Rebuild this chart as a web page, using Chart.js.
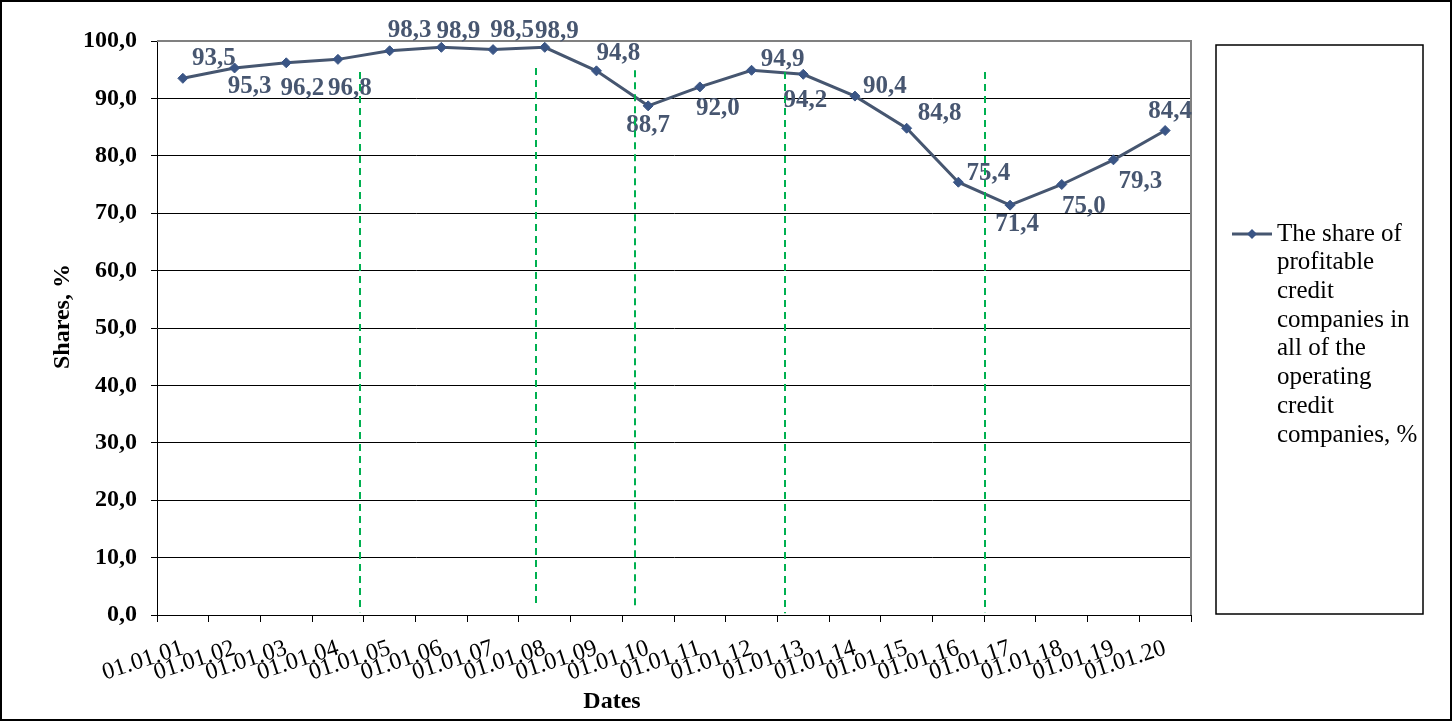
<!DOCTYPE html>
<html lang="en">
<head>
    <meta charset="UTF-8">
    <title>Share of profitable credit companies</title>
    <script src="https://cdn.jsdelivr.net/npm/chart.js"></script>
    <style>
        html, body { margin: 0; padding: 0; background: #fff; }
        #wrap { width: 1452px; height: 721px; position: relative; }
    </style>
</head>
<body>
<div id="wrap"><canvas id="shareChart"></canvas></div>

<script>
    // Dates (x axis categories)
    const dates = ['01.01.01', '01.01.02', '01.01.03', '01.01.04', '01.01.05', '01.01.06', '01.01.07',
        '01.01.08', '01.01.09', '01.01.10', '01.01.11', '01.01.12', '01.01.13', '01.01.14',
        '01.01.15', '01.01.16', '01.01.17', '01.01.18', '01.01.19', '01.01.20'];

    // Share of profitable credit companies, %
    const shares = [93.5, 95.3, 96.2, 96.8, 98.3, 98.9, 98.5, 98.9, 94.8, 88.7,
        92.0, 94.9, 94.2, 90.4, 84.8, 75.4, 71.4, 75.0, 79.3, 84.4];

    const seriesName = 'The share of profitable credit companies in all of the operating credit companies, %';

    // Green dashed markers: place on the date axis (category units) and value span
    const dashAt = [3.43, 6.84, 8.75, 11.65, 15.52];
    const dashTop = [94.6, 95.3, 94.9, 94.6, 94.6];
    const dashBottom = [0.5, 1.4, 1.0, 0.3, 0.5];

    const serif = "'Liberation Serif', 'Times New Roman', serif";
    const labelColor = '#475670';

    // where each value label sits relative to its point (px)
    const labelShift = [
        [31, -20], [15, 19], [16, 26], [12, 29], [20, -20], [17, -16], [19, -19], [12, -16],
        [22, -17], [0, 20], [18, 22], [31, -11], [2, 26], [30, -10], [33, -15], [30, -9],
        [7, 19], [22, 22], [27, 22], [5, -19]
    ];

    const fmt = v => v.toFixed(1).replace('.', ',');

    const extras = {
        id: 'extras',
        beforeDatasetsDraw(chart) {
            const { ctx, chartArea: a } = chart;
            // plot area frame, top and right
            ctx.save();
            ctx.strokeStyle = '#808080';
            ctx.lineWidth = 2;
            ctx.beginPath();
            ctx.moveTo(a.left, a.top);
            ctx.lineTo(a.right, a.top);
            ctx.lineTo(a.right, a.bottom);
            ctx.stroke();
            ctx.restore();
        },
        afterDatasetsDraw(chart) {
            const { ctx } = chart;
            const meta = chart.getDatasetMeta(0);
            ctx.save();
            ctx.font = `bold 25px ${serif}`;
            ctx.fillStyle = labelColor;
            ctx.textAlign = 'center';
            ctx.textBaseline = 'middle';
            meta.data.forEach((pt, i) => {
                const [dx, dy] = labelShift[i];
                ctx.fillText(fmt(shares[i]), pt.x + dx, pt.y + dy);
            });
            ctx.restore();
        },
        afterDraw(chart) {
            const { ctx, chartArea: a, scales: { x, y } } = chart;
            ctx.save();

            // green dashed lines
            ctx.strokeStyle = '#00B050';
            ctx.lineWidth = 2;
            ctx.setLineDash([7, 5]);
            dashAt.forEach((v, i) => {
                const px = Math.round(x.getPixelForValue(v));
                ctx.beginPath();
                ctx.moveTo(px, y.getPixelForValue(dashTop[i]));
                ctx.lineTo(px, y.getPixelForValue(dashBottom[i]));
                ctx.stroke();
            });
            ctx.setLineDash([]);

            // legend box
            const lx = a.right + 25, ly = a.top + 4;
            const lw = chart.width - 29 - lx, lh = a.bottom - 1 - ly;
            ctx.strokeStyle = '#000';
            ctx.lineWidth = 1.5;
            ctx.strokeRect(lx, ly, lw, lh);

            ctx.font = `25px ${serif}`;
            const textX = lx + 61;
            const maxW = lx + lw - textX - 2;
            const lines = [];
            let cur = '';
            seriesName.split(' ').forEach(w => {
                const test = cur ? cur + ' ' + w : w;
                if (cur && ctx.measureText(test).width > maxW) {
                    lines.push(cur);
                    cur = w;
                } else {
                    cur = test;
                }
            });
            lines.push(cur);
            const lineH = 28.7;
            const firstY = ly + lh / 2 + 5 - (lines.length - 1) * lineH / 2;
            ctx.fillStyle = '#000';
            ctx.textAlign = 'left';
            ctx.textBaseline = 'middle';
            lines.forEach((t, i) => ctx.fillText(t, textX, firstY + i * lineH));

            // legend sample: line with diamond
            ctx.strokeStyle = '#465670';
            ctx.lineWidth = 3;
            ctx.beginPath();
            ctx.moveTo(lx + 16, firstY);
            ctx.lineTo(lx + 56, firstY);
            ctx.stroke();
            ctx.fillStyle = '#3A5585';
            ctx.beginPath();
            ctx.moveTo(lx + 36, firstY - 5);
            ctx.lineTo(lx + 41, firstY);
            ctx.lineTo(lx + 36, firstY + 5);
            ctx.lineTo(lx + 31, firstY);
            ctx.closePath();
            ctx.fill();

            // axis titles
            ctx.font = `bold 24px ${serif}`;
            ctx.fillStyle = '#000';
            ctx.textAlign = 'center';
            ctx.textBaseline = 'middle';
            ctx.fillText('Dates', a.left + (a.right - a.left) * 0.44, chart.height - 19);
            ctx.save();
            ctx.translate(63, a.top + (a.bottom - a.top) * 0.48);
            ctx.rotate(-Math.PI / 2);
            ctx.fillText('Shares, %', 0, 0);
            ctx.restore();

            // outer border
            ctx.strokeStyle = '#000';
            ctx.lineWidth = 2;
            ctx.strokeRect(1, 1, chart.width - 2, chart.height - 2);
            ctx.restore();
        }
    };

    new Chart(document.getElementById('shareChart'), {
        type: 'line',
        data: {
            labels: dates,
            datasets: [{
                label: seriesName,
                data: shares,
                borderColor: '#465670',
                borderWidth: 3,
                pointStyle: 'rectRot',
                pointRadius: 5,
                pointBackgroundColor: '#3A5585',
                pointBorderColor: '#3A5585',
                pointBorderWidth: 1,
                tension: 0
            }]
        },
        options: {
            responsive: true,
            maintainAspectRatio: false,
            animation: false,
            layout: { padding: { top: 41, right: 261, left: 0, bottom: 0 } },
            plugins: {
                legend: { display: false },
                tooltip: { enabled: false }
            },
            scales: {
                x: {
                    offset: true,
                    grid: { offset: true, drawOnChartArea: false, drawTicks: true, tickLength: 7, color: '#000' },
                    border: { color: '#000', width: 1 },
                    ticks: {
                        autoSkip: false,
                        minRotation: 18,
                        maxRotation: 18,
                        padding: 12,
                        color: '#000',
                        font: { family: serif, size: 24 }
                    },
                    afterFit: s => { s.height = 106; }
                },
                y: {
                    min: 0,
                    max: 100,
                    ticks: {
                        stepSize: 10,
                        padding: 14,
                        color: '#000',
                        font: { family: serif, size: 24, weight: 'bold' },
                        callback: v => fmt(v)
                    },
                    grid: { color: '#000', tickLength: 6 },
                    border: { color: '#000' },
                    afterFit: s => { s.width = 157; }
                }
            }
        },
        plugins: [extras]
    });
</script>
</body>
</html>
